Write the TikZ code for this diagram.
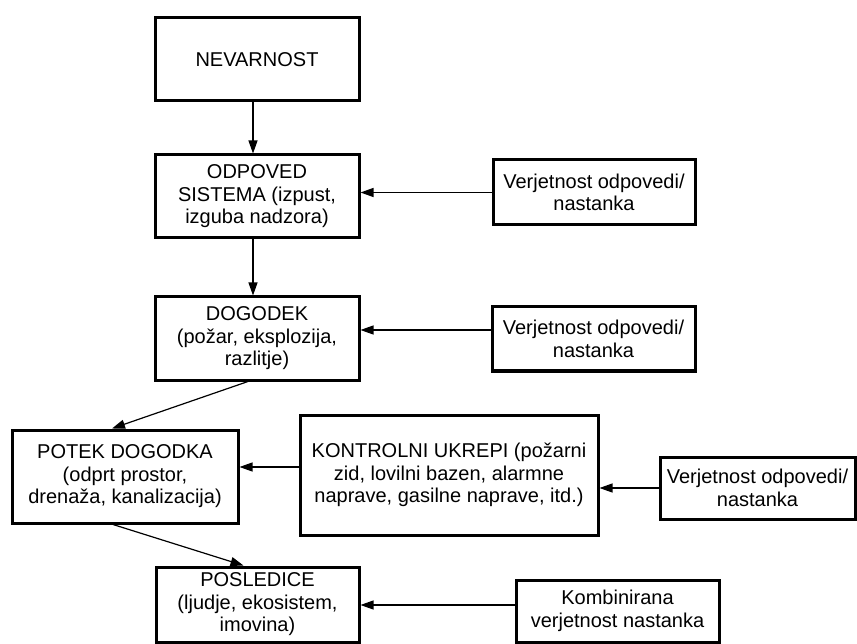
\documentclass[tikz,border=0pt]{standalone}
\usepackage{fontspec}
\setmainfont{Liberation Sans}
\usetikzlibrary{arrows.meta}
\begin{document}
\begin{tikzpicture}[x=1pt,y=1pt,
  box/.style={draw, line width=3pt, align=center, inner sep=0pt,
    font=\fontsize{20}{22.5}\selectfont},
  arr/.style={line width=1.2pt, -{Triangle[length=13pt,width=9pt]}}]
\useasboundingbox (0,0) rectangle (857,-644);
\node[box, minimum width=204, minimum height=83] (nev) at (257,-59.5) {NEVARNOST};
\node[box, minimum width=204, minimum height=83] (odp) at (257,-196.5) {ODPOVED\\SISTEMA (izpust,\\izguba nadzora)};
\node[box, minimum width=202, minimum height=65] (v1) at (594,-192.5) {Verjetnost odpovedi/\\nastanka};
\node[box, minimum width=204, minimum height=83] (dog) at (257,-338.5) {DOGODEK\\(požar, eksplozija,\\razlitje)};
\node[box, minimum width=203, minimum height=64] (v2) at (593.5,-339) {Verjetnost odpovedi/\\nastanka};
\node[box, minimum width=226, minimum height=93] (pot) at (125,-476.5) {POTEK DOGODKA\\(odprt prostor,\\drenaža, kanalizacija)};
\node[box, minimum width=298, minimum height=120] (kon) at (449,-475) {KONTROLNI UKREPI (požarni\\zid, lovilni bazen, alarmne\\naprave, gasilne naprave, itd.)};
\node[box, minimum width=195, minimum height=62] (v3) at (757.5,-488) {Verjetnost odpovedi/\\nastanka};
\node[box, minimum width=203, minimum height=75] (pos) at (257.5,-604.5) {POSLEDICE\\(ljudje, ekosistem,\\imovina)};
\node[box, minimum width=203, minimum height=62] (komb) at (617.5,-611) {Kombinirana\\verjetnost nastanka};
\draw[arr] ([xshift=-4pt]nev.south) -- ([xshift=-4pt]odp.north);
\draw[arr] ([xshift=-4pt]odp.south) -- ([xshift=-4pt]dog.north);
\draw[arr] (v1.west) -- (v1.west -| odp.east);
\draw[arr] ([yshift=9pt]v2.west) -- ([yshift=9pt]v2.west -| dog.east);
\draw[arr] ([xshift=-9pt]dog.south) -- ([xshift=-13pt]pot.north);
\draw[arr] ([yshift=8pt]kon.west) -- ([yshift=8pt]kon.west -| pot.east);
\draw[arr] (v3.west) -- (v3.west -| kon.east);
\draw[arr] ([xshift=-12pt]pot.south) -- ([xshift=-14pt]pos.north);
\draw[arr] ([yshift=6pt]komb.west) -- ([yshift=6pt]komb.west -| pos.east);
\end{tikzpicture}
\end{document}
